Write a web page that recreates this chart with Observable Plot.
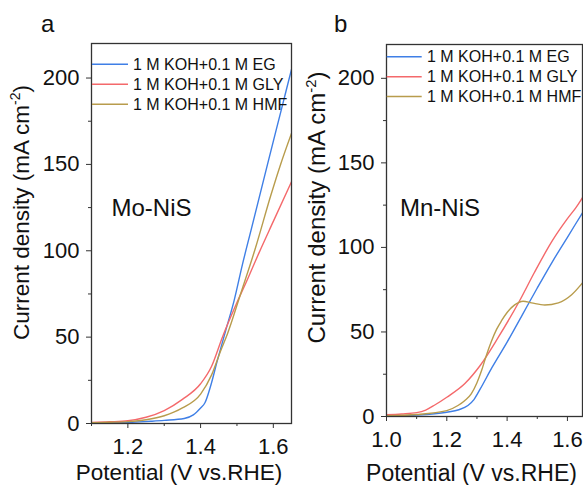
<!DOCTYPE html>
<html><head><meta charset="utf-8">
<script src="https://cdn.jsdelivr.net/npm/d3@7"></script>
<script src="https://cdn.jsdelivr.net/npm/@observablehq/plot@0.6"></script>
<style>
body{margin:0;background:#fff;font-family:"Liberation Sans",Arial,sans-serif;}
#wrap{position:relative;width:583px;height:485px;overflow:hidden;background:#fff;}
.abs{position:absolute;top:0;}
</style></head><body><div id="wrap"></div>
<script>
// ---------- data ----------
const seriesNames = ["1 M KOH+0.1 M EG", "1 M KOH+0.1 M GLY", "1 M KOH+0.1 M HMF"];
const seriesColors = ["#3f7fe6", "#f4696b", "#b89c4c"];
const panelLetters = ["a", "b"];
const panelTitles = ["Mo-NiS", "Mn-NiS"];
const xLabel = "Potential (V vs.RHE)";
const yLabel = "Current density (mA cm";

// Panel a (Mo-NiS)
const aEG_x  = [1.10, 1.15, 1.20, 1.264, 1.30, 1.355, 1.38, 1.40, 1.412, 1.428, 1.446, 1.469, 1.492, 1.515, 1.54, 1.584, 1.62, 1.65];
const aEG_y  = [0.2, 0.4, 0.6, 1.3, 1.8, 2.9, 5.0, 9.0, 12.0, 22.0, 36.4, 53.8, 71.0, 92.0, 113.0, 150.0, 180.0, 205.0];
const aGLY_x = [1.10, 1.15, 1.20, 1.25, 1.30, 1.35, 1.40, 1.43, 1.46, 1.50, 1.53, 1.56, 1.60, 1.65];
const aGLY_y = [0.6, 1.0, 1.6, 3.6, 7.5, 14.0, 23.0, 33.0, 50.0, 70.0, 84.0, 98.5, 117.0, 140.0];
const aHMF_x = [1.10, 1.15, 1.20, 1.25, 1.30, 1.35, 1.40, 1.43, 1.455, 1.474, 1.51, 1.55, 1.593, 1.62, 1.65];
const aHMF_y = [0.4, 0.7, 1.1, 2.2, 4.5, 9.0, 17.0, 28.0, 42.0, 52.0, 75.0, 101.0, 132.0, 150.0, 168.0];

// Panel b (Mn-NiS)
const bEG_x  = [1.00, 1.10, 1.20, 1.24, 1.27, 1.29, 1.31, 1.35, 1.40, 1.45, 1.50, 1.55, 1.60, 1.65];
const bEG_y  = [0.3, 0.8, 2.5, 4.0, 6.5, 10.0, 16.0, 29.0, 44.0, 60.0, 76.0, 91.5, 106.0, 120.5];
const bGLY_x = [1.00, 1.05, 1.10, 1.13, 1.16, 1.20, 1.26, 1.31, 1.37, 1.44, 1.49, 1.55, 1.60, 1.63, 1.65];
const bGLY_y = [1.0, 1.5, 2.3, 3.8, 6.8, 11.4, 19.5, 30.0, 46.6, 68.0, 85.0, 104.0, 117.0, 124.0, 129.5];
const bHMF_x = [1.00, 1.10, 1.20, 1.237, 1.26, 1.281, 1.30, 1.315, 1.33, 1.348, 1.365, 1.381, 1.40, 1.425, 1.453, 1.481, 1.525, 1.57, 1.614, 1.65];
const bHMF_y = [0.5, 1.2, 3.5, 6.5, 9.5, 13.4, 20.0, 27.0, 35.5, 44.5, 51.5, 56.5, 61.5, 66.0, 68.2, 67.2, 65.9, 67.2, 72.0, 79.0];

// ticks
const yTicks = [0, 50, 100, 150, 200];
const yMinor = [25, 75, 125, 175];
const aXTicks = [1.2, 1.4, 1.6];
const bXTicks = [1.0, 1.2, 1.4, 1.6];
const xMinor = [1.1, 1.3, 1.5];

// ---------- build ----------
function rows(xsArr, ysArr) {
  const out = [];
  xsArr.forEach((xs, i) => xs.forEach((x, j) => out.push({series: seriesNames[i], x, y: ysArr[i][j]})));
  return out;
}
const dataA = rows([aEG_x, aGLY_x, aHMF_x], [aEG_y, aGLY_y, aHMF_y]);
const dataB = rows([bEG_x, bGLY_x, bHMF_x], [bEG_y, bGLY_y, bHMF_y]);

function panel(data, xDomain, xTicks, minorX, width, m) {
  return Plot.plot({
    width, height: 485,
    marginLeft: m.l, marginRight: m.r, marginTop: m.t, marginBottom: m.b,
    style: {fontFamily: '"Liberation Sans", Arial, sans-serif', fontSize: "22px", color: "#111", background: "transparent", overflow: "visible"},
    x: {domain: xDomain},
    y: {domain: [0, 220]},
    color: {domain: seriesNames, range: seriesColors},
    marks: [
      Plot.axisX(xTicks, {tickSize: 5, tickPadding: 10, tickFormat: d3.format(".1f"), label: null, fontSize: 22, stroke: "#333"}),
      Plot.axisX(minorX, {tickSize: 3, tickFormat: () => "", label: null, stroke: "#333"}),
      Plot.axisY(yTicks, {tickSize: 5, tickPadding: 7, label: null, fontSize: 22, stroke: "#333"}),
      Plot.axisY(yMinor, {tickSize: 3, tickFormat: () => "", label: null, stroke: "#333"}),
      Plot.line(data, {x: "x", y: "y", z: "series", stroke: "series", strokeWidth: 1.4, curve: "monotone-x", clip: true}),
      Plot.frame({stroke: "#333", strokeWidth: 1.3})
    ]
  });
}

const wrap = document.getElementById("wrap");
const pA = panel(dataA, [1.1, 1.65], aXTicks, xMinor, 292, {l: 91, r: 1, t: 43, b: 62});
pA.classList.add("abs"); pA.style.left = "0px";
wrap.appendChild(pA);
const pB = panel(dataB, [1.0, 1.65], bXTicks, xMinor, 291, {l: 94, r: 1, t: 44, b: 69});
pB.classList.add("abs"); pB.style.left = "292px";
wrap.appendChild(pB);

// ---------- overlay texts / legends ----------
const NS = "http://www.w3.org/2000/svg";
const ov = document.createElementNS(NS, "svg");
ov.setAttribute("width", 583); ov.setAttribute("height", 485);
ov.setAttribute("class", "abs"); ov.style.left = "0px";
ov.style.fontFamily = '"Liberation Sans", Arial, sans-serif';
ov.style.fill = "#111";
wrap.appendChild(ov);

function txt(x, y, s, size, anchor, transform) {
  const t = document.createElementNS(NS, "text");
  t.setAttribute("x", x); t.setAttribute("y", y);
  t.setAttribute("font-size", size);
  if (anchor) t.setAttribute("text-anchor", anchor);
  if (transform) t.setAttribute("transform", transform);
  t.textContent = s;
  ov.appendChild(t);
  return t;
}
function ylab(cx, cy, size) {
  const t = txt(0, 0, "", size, "middle", `translate(${cx},${cy}) rotate(-90)`);
  const a = document.createElementNS(NS, "tspan"); a.textContent = yLabel; t.appendChild(a);
  const s = document.createElementNS(NS, "tspan"); s.textContent = "-2"; s.setAttribute("font-size", size * 0.62); s.setAttribute("dy", -size * 0.38); t.appendChild(s);
  const c = document.createElementNS(NS, "tspan"); c.textContent = ")"; c.setAttribute("dy", size * 0.38); t.appendChild(c);
}
function legend(x0, x1, tx, ys) {
  seriesNames.forEach((name, i) => {
    const l = document.createElementNS(NS, "line");
    l.setAttribute("x1", x0); l.setAttribute("x2", x1);
    l.setAttribute("y1", ys[i]); l.setAttribute("y2", ys[i]);
    l.setAttribute("stroke", seriesColors[i]); l.setAttribute("stroke-width", 1.5);
    ov.appendChild(l);
    txt(tx, ys[i] + 5.7, name, 16);
  });
}

// panel letters
txt(41, 32, panelLetters[0], 24);
txt(334, 32, panelLetters[1], 24);
// axis labels
ylab(29, 212.5, 22.5);
ylab(325, 207.5, 24);
txt(179, 480, xLabel, 22.5, "middle");
txt(471.5, 480.5, xLabel, 23, "middle");
// panel titles
txt(111.5, 215.5, panelTitles[0], 24);
txt(400, 215.5, panelTitles[1], 24);
// legends
legend(92, 128, 133, [64.3, 84.3, 104.3]);
legend(386.7, 421.7, 427, [56.7, 76.7, 96.5]);
</script>
</body></html>
